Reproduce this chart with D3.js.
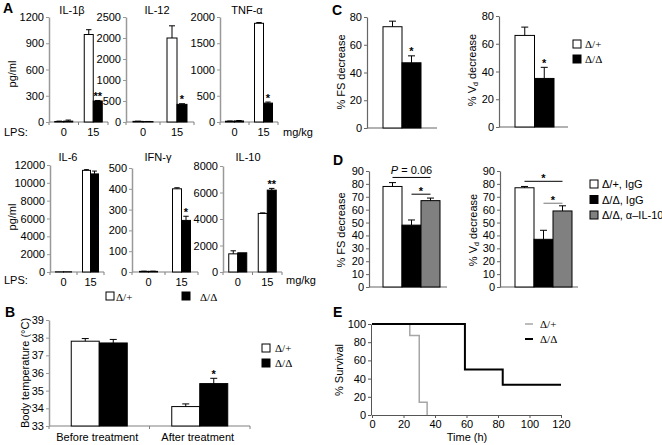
<!DOCTYPE html>
<html><head><meta charset="utf-8">
<script src="https://cdn.jsdelivr.net/npm/d3@7"></script>
<style>
body{margin:0;background:#fff}
svg text{font-family:"Liberation Sans",Arial,sans-serif;font-size:11px;fill:#000}
</style></head><body>
<svg id="c" width="662" height="445"></svg>
<script>
// ---------- DATA ----------
const doses = ["0", "15"];
const genotypes = ["Δ/+", "Δ/Δ"];
const il1bWT = [6, 1000], il1bWTErr = [4, 55], il1bKO = [10, 240], il1bKOErr = [12, 6], il1bStar = ["", "**"];
const il12WT = [15, 2000], il12WTErr = [4, 290], il12KO = [10, 420], il12KOErr = [3, 15], il12Star = ["", "*"];
const tnfWT = [15, 1880], tnfWTErr = [4, 15], tnfKO = [20, 360], tnfKOErr = [8, 20], tnfStar = ["", "*"];
const il6WT = [20, 11400], il6WTErr = [0, 80], il6KO = [20, 11000], il6KOErr = [0, 320], il6Star = ["", ""];
const ifnWT = [3, 400], ifnWTErr = [1, 5], ifnKO = [3, 248], ifnKOErr = [1, 20], ifnStar = ["", "*"];
const il10WT = [1370, 4420], il10WTErr = [230, 40], il10KO = [1450, 6180], il10KOErr = [0, 130], il10Star = ["", "**"];
const il1bTicks = [0, 300, 600, 900, 1200];
const il12Ticks = [0, 500, 1000, 1500, 2000, 2500];
const il12TickLabels = ["0", "500", "1000", "2000", "2000", "2500"];
const tnfTicks = [0, 500, 1000, 1500, 2000];
const il6Ticks = [0, 2000, 4000, 6000, 8000, 10000, 12000];
const ifnTicks = [0, 100, 200, 300, 400, 500];
const il10Ticks = [0, 2000, 4000, 6000, 8000];

const tempGroups = ["Before treatment", "After treatment"];
const tempWT = [37.8, 34.1], tempWTErr = [0.15, 0.15];
const tempKO = [37.7, 35.4], tempKOErr = [0.2, 0.3];
const tempStar = ["", "*"];
const tempTicks = [33, 34, 35, 36, 37, 38, 39];

const cFS = [73, 47], cFSErr = [4, 5], cFSStar = ["", "*"];
const cVd = [66, 35], cVdErr = [6, 8], cVdStar = ["", "*"];
const cTicks = [0, 20, 40, 60, 80];

const dGroups = ["Δ/+, IgG", "Δ/Δ, IgG", "Δ/Δ, α–IL-10"];
const dFS = [78, 48, 67], dFSErr = [3, 4, 2];
const dVd = [77, 37, 59], dVdErr = [1, 7, 4];
const dTicks = [0, 10, 20, 30, 40, 50, 60, 70, 80, 90];

const survTimeWT = [0, 24, 30, 35], survWT = [100, 87.5, 14, 0];
const survTimeKO = [0, 59, 83, 120], survKO = [100, 50, 33.3, 33.3];
const survXTicks = [0, 20, 40, 60, 80, 100, 120];
const survYTicks = [0, 20, 40, 60, 80, 100];

// ---------- DRAWING ----------
const FONT = '"Liberation Sans",Arial,sans-serif';
const SERIF = '"Liberation Serif","Times New Roman",serif';
const svg = d3.select("#c");
const GREY = "#808080";

function txt(x, y, s, opts = {}) {
  const t = svg.append("text").attr("x", x).attr("y", y).text(s);
  if (opts.anchor) t.attr("text-anchor", opts.anchor);
  if (opts.size) t.style("font-size", opts.size + "px");
  if (opts.weight) t.style("font-weight", opts.weight);
  if (opts.family) t.style("font-family", opts.family);
  if (opts.rotate) t.attr("transform", `rotate(-90,${x},${y})`);
  return t;
}

function drawYAxis(y, x0, ticks, labels, color, width) {
  const ax = d3.axisLeft(y).tickValues(ticks).tickSize(3).tickSizeOuter(0).tickPadding(2)
    .tickFormat((d, i) => labels ? labels[i] : d);
  const a = svg.append("g").attr("transform", `translate(${x0},0)`).call(ax);
  a.attr("font-size", 11).attr("font-family", FONT);
  a.select(".domain").attr("stroke", color).attr("stroke-width", width);
  a.selectAll(".tick line").attr("stroke", color);
  a.selectAll(".tick text").style("font-size", "11px");
  return a;
}

function drawBarsErr(y, xs, w, vals, errs, fills, stars) {
  vals.forEach((v, i) => {
    const x = xs[i];
    svg.append("rect").attr("x", x).attr("y", y(v)).attr("width", w)
      .attr("height", y(y.domain()[0]) - y(v))
      .attr("fill", fills[i]).attr("stroke", "#000").attr("stroke-width", 1);
    const e = errs[i];
    const cx = x + w / 2, cap = Math.min(7, w * 0.6);
    if (e > 0) {
      svg.append("line").attr("x1", cx).attr("x2", cx).attr("y1", y(v)).attr("y2", y(v + e))
        .attr("stroke", "#000").attr("stroke-width", 1);
      svg.append("line").attr("x1", cx - cap / 2).attr("x2", cx + cap / 2).attr("y1", y(v + e)).attr("y2", y(v + e))
        .attr("stroke", "#000").attr("stroke-width", 1);
    }
    if (stars && stars[i]) {
      txt(cx, y(v + e) - 0.5, stars[i], { anchor: "middle", weight: "bold" });
    }
  });
}

// Panel A small cytokine chart
function cytokine(cfg) {
  const x = d3.scaleBand().domain(doses).range([cfg.x0, cfg.x1]);
  const y = d3.scaleLinear().domain([0, cfg.max]).range([cfg.yBot, cfg.yTop]);
  const bw = cfg.bw || 9;
  svg.append("line").attr("x1", cfg.x0).attr("x2", cfg.x1).attr("y1", cfg.yBot).attr("y2", cfg.yBot)
    .attr("stroke", GREY).attr("stroke-width", 1.2);
  const bounds = doses.map(d => x(d)).concat([cfg.x1]);
  bounds.forEach(b => svg.append("line").attr("x1", b).attr("x2", b).attr("y1", cfg.yBot).attr("y2", cfg.yBot + 3)
    .attr("stroke", GREY));
  doses.forEach((d, i) => {
    const c = x(d) + x.bandwidth() / 2;
    drawBarsErr(y, [c - bw, c], bw, [cfg.wt[i], cfg.ko[i]], [cfg.wtErr[i], cfg.koErr[i]], ["#fff", "#000"],
      ["", cfg.star[i]]);
    txt(c, cfg.yBot + 14, d, { anchor: "middle" });
  });
  drawYAxis(y, cfg.x0, cfg.ticks, cfg.labels, "#999", 1.5);
  txt(cfg.tx, cfg.ty, cfg.title, { anchor: "middle" });
}

cytokine({ x0: 49, x1: 108, yTop: 17, yBot: 122, max: 1200, ticks: il1bTicks, wt: il1bWT, wtErr: il1bWTErr, ko: il1bKO, koErr: il1bKOErr, star: il1bStar, title: "IL-1β", tx: 72, ty: 14 });
cytokine({ x0: 126, x1: 194, yTop: 17, yBot: 122, max: 2500, ticks: il12Ticks, labels: il12TickLabels, wt: il12WT, wtErr: il12WTErr, ko: il12KO, koErr: il12KOErr, star: il12Star, title: "IL-12", tx: 157, ty: 14, bw: 10 });
cytokine({ x0: 220, x1: 278, yTop: 17, yBot: 122, max: 2000, ticks: tnfTicks, wt: tnfWT, wtErr: tnfWTErr, ko: tnfKO, koErr: tnfKOErr, star: tnfStar, title: "TNF-α", tx: 247, ty: 14 });
cytokine({ x0: 50, x1: 104, yTop: 165, yBot: 272, max: 12000, ticks: il6Ticks, wt: il6WT, wtErr: il6WTErr, ko: il6KO, koErr: il6KOErr, star: il6Star, title: "IL-6", tx: 68, ty: 161, bw: 8 });
cytokine({ x0: 132, x1: 198, yTop: 168, yBot: 272, max: 500, ticks: ifnTicks, wt: ifnWT, wtErr: ifnWTErr, ko: ifnKO, koErr: ifnKOErr, star: ifnStar, title: "IFN-γ", tx: 158, ty: 161 });
cytokine({ x0: 223, x1: 282, yTop: 166, yBot: 272, max: 8000, ticks: il10Ticks, wt: il10WT, wtErr: il10WTErr, ko: il10KO, koErr: il10KOErr, star: il10Star, title: "IL-10", tx: 248, ty: 161 });

txt(3, 13, "A", { size: 14, weight: "bold" });
txt(4, 136, "LPS:"); txt(283, 136, "mg/kg");
txt(4, 284, "LPS:"); txt(286, 284, "mg/kg");
txt(16, 74, "pg/ml", { anchor: "middle", rotate: true });
txt(16, 217, "pg/ml", { anchor: "middle", rotate: true });
svg.append("rect").attr("x", 106).attr("y", 292).attr("width", 8).attr("height", 8).attr("fill", "#fff").attr("stroke", "#000");
txt(116, 301, genotypes[0], { family: SERIF });
svg.append("rect").attr("x", 182).attr("y", 292).attr("width", 8).attr("height", 8).attr("fill", "#000").attr("stroke", "#000");
txt(200, 301, genotypes[1], { family: SERIF });

// ---------- Panel B ----------
(function () {
  const x0 = 49, x1 = 250, yTop = 320, yBot = 426, bw = 28;
  const x = d3.scaleBand().domain(tempGroups).range([x0, x1]);
  const y = d3.scaleLinear().domain([33, 39]).range([yBot, yTop]);
  svg.append("line").attr("x1", x0).attr("x2", x1).attr("y1", yBot).attr("y2", yBot).attr("stroke", GREY).attr("stroke-width", 1.2);
  tempGroups.map(g => x(g)).concat([x1]).forEach(b => svg.append("line").attr("x1", b).attr("x2", b).attr("y1", yBot).attr("y2", yBot + 3).attr("stroke", GREY));
  tempGroups.forEach((g, i) => {
    const c = x(g) + x.bandwidth() / 2;
    drawBarsErr(y, [c - bw, c], bw, [tempWT[i], tempKO[i]], [tempWTErr[i], tempKOErr[i]], ["#fff", "#000"], ["", tempStar[i]]);
    txt(c - 2, yBot + 15, g, { anchor: "middle" });
  });
  drawYAxis(y, x0, tempTicks, null, "#999", 1.5);
  txt(5, 317, "B", { size: 14, weight: "bold" });
  txt(29, 373, "Body temperature (°C)", { anchor: "middle", rotate: true });
  svg.append("rect").attr("x", 262).attr("y", 344).attr("width", 8).attr("height", 8).attr("fill", "#fff").attr("stroke", "#000");
  txt(275, 352, genotypes[0], { family: SERIF });
  svg.append("rect").attr("x", 262).attr("y", 359).attr("width", 8).attr("height", 8).attr("fill", "#000").attr("stroke", "#000");
  txt(275, 367, genotypes[1], { family: SERIF });
})();

// ---------- Panel C / D ----------
function smallBars(cfg) {
  const y = d3.scaleLinear().domain([0, cfg.max]).range([cfg.yBot, cfg.yTop]);
  const x = d3.scaleBand().domain(cfg.cats).range([cfg.bx, cfg.bx + cfg.bw * cfg.cats.length]);
  svg.append("line").attr("x1", cfg.x0).attr("x2", cfg.x1).attr("y1", cfg.yBot).attr("y2", cfg.yBot).attr("stroke", "#666").attr("stroke-width", 1.2);
  drawBarsErr(y, cfg.cats.map(c => x(c)), x.bandwidth(), cfg.vals, cfg.errs, cfg.fills, cfg.stars);
  drawYAxis(y, cfg.x0, cfg.ticks, null, "#666", 1.2);
  return { x, y };
}

const cL = smallBars({ cats: genotypes, x0: 367, x1: 437, bx: 383, bw: 19, yTop: 17, yBot: 128, max: 80, ticks: cTicks, vals: cFS, errs: cFSErr, fills: ["#fff", "#000"], stars: cFSStar });
const cR = smallBars({ cats: genotypes, x0: 499, x1: 568, bx: 515, bw: 19.5, yTop: 16, yBot: 127, max: 80, ticks: cTicks, vals: cVd, errs: cVdErr, fills: ["#fff", "#000"], stars: cVdStar });
txt(332, 15, "C", { size: 14, weight: "bold" });
txt(345, 72, "% FS decrease", { anchor: "middle", rotate: true });
(function () {
  const t = svg.append("text").attr("x", 476).attr("y", 70).attr("text-anchor", "middle").attr("transform", "rotate(-90,476,70)");
  t.append("tspan").text("% V");
  t.append("tspan").text("d").style("font-size", "7px").attr("dy", 2);
  t.append("tspan").text(" decrease").attr("dy", -2);
})();
svg.append("rect").attr("x", 573).attr("y", 40).attr("width", 8).attr("height", 8).attr("fill", "#fff").attr("stroke", "#000");
txt(585, 48, genotypes[0], { family: SERIF });
svg.append("rect").attr("x", 573).attr("y", 55).attr("width", 8).attr("height", 8).attr("fill", "#000").attr("stroke", "#000");
txt(585, 63, genotypes[1], { family: SERIF });

const dFills = ["#fff", "#000", GREY];
const dL = smallBars({ cats: dGroups, x0: 369, x1: 447, bx: 383, bw: 19, yTop: 171, yBot: 287, max: 90, ticks: dTicks, vals: dFS, errs: dFSErr, fills: dFills, stars: null });
const dR = smallBars({ cats: dGroups, x0: 500, x1: 578, bx: 515, bw: 19, yTop: 171, yBot: 287, max: 90, ticks: dTicks, vals: dVd, errs: dVdErr, fills: dFills, stars: null });
txt(333, 165, "D", { size: 14, weight: "bold" });
txt(345, 230, "% FS decrease", { anchor: "middle", rotate: true });
(function () {
  const t = svg.append("text").attr("x", 477).attr("y", 230).attr("text-anchor", "middle").attr("transform", "rotate(-90,477,230)");
  t.append("tspan").text("% V");
  t.append("tspan").text("d").style("font-size", "7px").attr("dy", 2);
  t.append("tspan").text(" decrease").attr("dy", -2);
})();
function sigLine(sc, a, b, yv, color) {
  const xa = sc.x(dGroups[a]) + sc.x.bandwidth() / 2, xb = sc.x(dGroups[b]) + sc.x.bandwidth() / 2;
  svg.append("line").attr("x1", xa).attr("x2", xb).attr("y1", sc.y(yv)).attr("y2", sc.y(yv)).attr("stroke", color).attr("stroke-width", 1);
  return [(xa + xb) / 2, sc.y(yv)];
}
let p = sigLine(dL, 0, 2, 85, "#000");
(function () {
  const t = svg.append("text").attr("x", p[0]).attr("y", p[1] - 3).attr("text-anchor", "middle");
  t.append("tspan").text("P").style("font-style", "italic");
  t.append("tspan").text(" = 0.06");
})();
p = sigLine(dL, 1, 2, 72, "#000"); txt(p[0], p[1] + 1, "*", { anchor: "middle", weight: "bold" });
p = sigLine(dR, 0, 2, 82, "#000"); txt(p[0], p[1] + 1, "*", { anchor: "middle", weight: "bold" });
p = sigLine(dR, 1, 2, 65, "#777"); txt(p[0], p[1] + 1, "*", { anchor: "middle", weight: "bold" });
dGroups.forEach((g, i) => {
  svg.append("rect").attr("x", 590).attr("y", 180 + i * 15.5).attr("width", 8).attr("height", 8).attr("fill", dFills[i]).attr("stroke", "#000");
  txt(602, 188 + i * 15.5, g);
});

// ---------- Panel E ----------
(function () {
  const x = d3.scaleLinear().domain([0, 120]).range([372, 561]);
  const y = d3.scaleLinear().domain([0, 100]).range([415, 324]);
  const xa = svg.append("g").attr("transform", "translate(0,415)")
    .call(d3.axisBottom(x).tickValues(survXTicks).tickSize(3).tickSizeOuter(0).tickPadding(2));
  xa.attr("font-size", 11).attr("font-family", FONT);
  xa.select(".domain").attr("stroke", "#555");
  xa.selectAll(".tick line").attr("stroke", "#555");
  const ya = svg.append("g").attr("transform", "translate(371,0)")
    .call(d3.axisLeft(y).tickValues(survYTicks).tickSize(3).tickSizeOuter(0).tickPadding(2));
  ya.attr("font-size", 11).attr("font-family", FONT);
  ya.select(".domain").attr("stroke", "#555");
  ya.selectAll(".tick line").attr("stroke", "#555");
  const line = d3.line().x(d => x(d[0])).y(d => y(d[1])).curve(d3.curveStepAfter);
  svg.append("path").attr("d", line(survTimeWT.map((t, i) => [t, survWT[i]]))).attr("fill", "none").attr("stroke", "#a6a6a6").attr("stroke-width", 1.5);
  svg.append("path").attr("d", line(survTimeKO.map((t, i) => [t, survKO[i]]))).attr("fill", "none").attr("stroke", "#000").attr("stroke-width", 2);
  txt(333, 317, "E", { size: 14, weight: "bold" });
  txt(343, 370, "% Survival", { anchor: "middle", rotate: true });
  txt(467, 441, "Time (h)", { anchor: "middle" });
  svg.append("line").attr("x1", 525).attr("x2", 533).attr("y1", 324).attr("y2", 324).attr("stroke", "#a6a6a6").attr("stroke-width", 1.5);
  txt(540, 328, genotypes[0], { family: SERIF });
  svg.append("line").attr("x1", 525).attr("x2", 533).attr("y1", 339).attr("y2", 339).attr("stroke", "#000").attr("stroke-width", 2);
  txt(540, 343, genotypes[1], { family: SERIF });
})();
</script>
</body></html>
